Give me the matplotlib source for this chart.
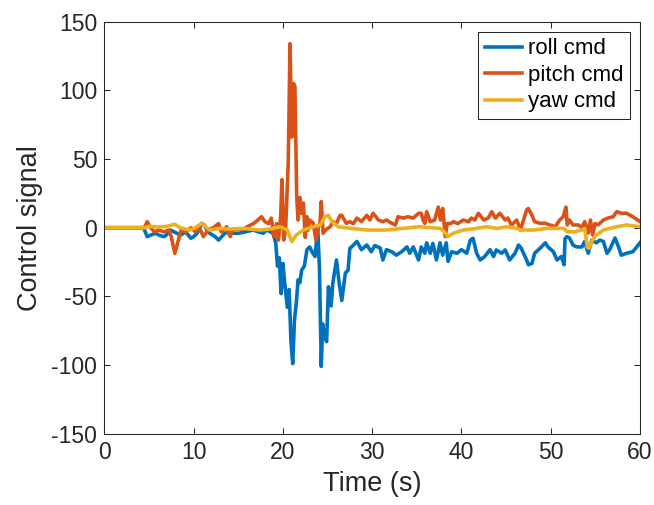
import matplotlib
matplotlib.use("Agg")
import matplotlib.pyplot as plt

# ---------------------------------------------------------------
# Control commands logged during the flight (time in seconds)
# ---------------------------------------------------------------
t_roll = [0, 4.4, 4.8, 5.2, 5.75, 6.1, 6.7, 7.0, 7.4, 7.8, 8.55, 9.1, 9.7, 10.0,
          10.4, 10.9, 11.2, 11.5, 11.8, 12.4, 12.8, 13.5, 14.1, 14.4, 15.1, 15.8,
          16.7, 17.2, 17.8, 18.2, 18.6, 18.9, 19.2, 19.4, 19.6, 19.8, 20.0, 20.2,
          20.5, 20.7, 20.9, 21.1, 21.3, 21.5, 21.7, 21.9, 22.1, 22.4, 22.7, 23.0,
          23.3, 23.6, 23.9, 24.1, 24.3, 24.45, 24.7, 24.9, 25.1, 25.4, 25.6, 26.0,
          26.3, 26.6, 27.0, 27.3, 27.5, 27.7, 28.3, 28.8, 29.4, 29.9, 30.3, 30.9,
          31.2, 31.6, 32.2, 32.7, 33.3, 33.9, 34.2, 34.6, 35.2, 35.5, 35.9, 36.1,
          36.5, 36.8, 37.2, 37.6, 37.9, 38.3, 38.5, 38.9, 39.5, 40.0, 40.6, 41.0,
          41.3, 41.7, 42.1, 42.6, 43.2, 43.6, 43.9, 44.5, 44.9, 45.4, 46.0, 46.4,
          46.7, 47.3, 47.5, 47.9, 48.2, 48.8, 49.4, 49.7, 50.3, 50.7, 51.2, 51.5,
          51.6, 51.8, 52.1, 52.5, 52.9, 53.5, 53.8, 54.2, 54.6, 55.1, 55.5, 55.9,
          56.3, 56.6, 57.2, 57.6, 57.9, 58.5, 59.2, 60.0]
roll_cmd = [0, 0, -6.5, -5.4, -4, -5.4, -6.5, -5, -1.7, -3, -5.4, -3, -7.7, -6.5,
            -4, 3.2, 2, -1.7, -4, -6.5, -9, -4, -3, -4, -4, -3,
            -1.7, -3, -4, -1.7, -3, -4, -11, -28, -22, -48, -26, -40,
            -58, -45, -82, -99, -67, -55, -38, -40, -31, -28, -16, -14,
            -18, -21, 0, -30, -101, -70, -80, -83, -43, -57, -40, -23.5,
            -40, -53, -33, -31, -15, -14, -10, -16, -12.6, -17.5, -13, -14.8,
            -23.5, -16, -17.5, -20, -17.5, -14, -18.6, -14, -23.5, -14, -18.6, -11,
            -18.6, -11.4, -23.5, -11, -20, -11, -24.5, -17.5, -18.6, -16, -18.6, -9,
            -7.7, -18.6, -23.5, -21, -16, -21, -16.2, -18.6, -16.2, -23.5, -18.6, -12.6,
            -15, -23.5, -27, -26, -18.6, -15, -11, -14, -17.5, -23.5, -21, -27,
            -8, -6.5, -7.5, -12.6, -14, -14, -10, -18.6, -9, -11, -9, -10,
            -18.6, -16, -7.5, -14, -20, -18.6, -17.5, -11]

t_pitch = [0, 4.5, 4.8, 5.2, 5.6, 6.1, 6.7, 7.2, 7.5, 7.9, 8.3, 8.6, 9.1, 9.7,
           10.2, 10.6, 11.1, 11.6, 12.2, 12.8, 13.1, 13.7, 14.1, 14.4, 15.0, 15.6,
           16.1, 16.7, 17.2, 17.6, 18.0, 18.4, 18.7, 19.0, 19.3, 19.5, 19.75, 19.9,
           20.1, 20.3, 20.6, 20.8, 21.0, 21.2, 21.35, 21.55, 21.7, 21.9, 22.1, 22.3,
           22.5, 22.7, 22.85, 23.0, 23.4, 23.7, 24.0, 24.15, 24.3, 24.5, 24.9, 25.3,
           25.6, 26.0, 26.4, 26.6, 27.1, 27.5, 27.9, 28.3, 28.8, 29.4, 29.75, 30.1,
           30.7, 31.2, 31.6, 32.2, 32.6, 32.9, 33.5, 34.0, 34.6, 35.2, 35.5, 35.7,
           35.9, 36.1, 36.5, 37.0, 37.4, 37.65, 37.9, 38.2, 38.4, 38.8, 39.1, 39.6,
           40.2, 40.8, 41.1, 41.5, 41.9, 42.5, 43.0, 43.4, 43.8, 44.3, 44.9, 45.2,
           45.6, 46.2, 46.6, 46.9, 47.3, 47.5, 47.9, 48.2, 48.8, 49.4, 49.9, 50.5,
           51.0, 51.4, 51.7, 51.85, 52.1, 52.5, 53.1, 53.5, 53.8, 54.2, 54.45, 54.7,
           54.95, 55.3, 55.9, 56.4, 57.0, 57.4, 57.9, 58.5, 59.2, 60.0]
pitch_cmd = [0, 0, 4.4, 0, -3, -1.7, -3, -1.7, -6.5, -18.7, -9, -1.7, -3, 0,
             -3, 0.7, -6.5, -1.7, 0, 3, -3, 0.7, -6.5, -1, -1, -1,
             1, 3, 5.6, 8, 4.4, 3, 7, -6.5, 3, -9, 8, 35,
             -9, -1.7, 47, 134, 66, 105, 103, 22.6, 5.6, 22, 10.5, 18,
             -7, 8, -1.7, 5.6, 3.4, -9, 0.7, 3, 19, -4, -1, 0.7,
             4.4, 3, 9, 9, 3.2, 4.4, 3, 7, 4.4, 9, 5.6, 10.5,
             5.6, 4.4, 5.6, 3.2, 2, 8, 7, 8, 7, 10.5, 10.5, 5.6,
             3.2, 11.7, 4.4, 5.6, 15, 5.6, 14, -6.5, 3, 3, 4.4, 3,
             5.6, 4.4, 7, 5.6, 10.5, 5.6, 7, 11.7, 7, 10.5, 5.6, 7,
             2, 5.6, -1.7, 4.4, 13, 14, 9, 4.4, 3.2, 3.2, 2, 0.7,
             5.6, 8, 15, 2, 5.6, 2, 2, 0, 4.4, -4, 5.6, -5.4,
             3, 2, 5.6, 7, 8, 11.7, 10.5, 10.5, 8, 4.4]

t_yaw = [0, 4.5, 5.0, 6.0, 7.0, 7.9, 8.5, 9.6, 10.3, 10.9, 11.8, 13.0, 14.0, 15.5,
         17.4, 18.5, 19.7, 20.5, 21.0, 21.5, 22.3, 23.4, 24.2, 24.7, 25.1, 25.5,
         26.2, 27.6, 29.5, 31.5, 33.4, 35.3, 37.6, 38.1, 38.5, 39.1, 40.2, 41.7,
         42.8, 44.0, 45.1, 46.2, 46.6, 48.1, 49.6, 51.5, 51.8, 52.7, 53.5, 53.8,
         54.1, 54.3, 54.6, 55.1, 55.9, 56.6, 57.4, 58.5, 59.6, 60.0]
yaw_cmd = [0, 0, 1, 0.5, 1, 2.5, 0, -1.7, 0.5, 3.2, -1.7, -0.5, -1, -0.5,
           -1.7, -1, 0.7, -1.7, -10, -5.4, -1.7, 0.7, 2, 8, 9, 4.4,
           0.7, -0.5, -1.7, -1.7, -0.5, 0.7, -0.5, -3, -6.5, -4, -1.7, -0.5,
           0.7, -0.5, 0.7, -0.5, -1.7, -1.7, -0.5, -0.5, -3, -3, -1.7, -0.5,
           -14, -15, -10, -5.4, -1.7, -0.5, 0.7, 2, 1, 0.7]

# MATLAB default line colours
C_ROLL = "#0072BD"
C_PITCH = "#D95319"
C_YAW = "#EDB120"
AX_COLOR = "#262626"

plt.rcParams["font.family"] = ["Liberation Sans", "DejaVu Sans"]
plt.rcParams["axes.unicode_minus"] = False

fig = plt.figure(figsize=(6.54, 5.05), dpi=100)
ax = fig.add_axes([0.1595, 0.1412, 0.8191, 0.8158])

ax.plot(t_roll, roll_cmd, color=C_ROLL, lw=2.6, label="roll cmd")
ax.plot(t_pitch, pitch_cmd, color=C_PITCH, lw=2.6, label="pitch cmd")
ax.plot(t_yaw, yaw_cmd, color=C_YAW, lw=2.6, label="yaw cmd")

ax.set_xlim(0, 60)
ax.set_ylim(-150, 150)
ax.set_xticks(range(0, 61, 10))
ax.set_yticks(range(-150, 151, 50))

ax.tick_params(direction="in", length=4, width=0.75, colors=AX_COLOR,
               labelsize=16.5, top=True, right=True, pad=5)
for s in ax.spines.values():
    s.set_color(AX_COLOR)
    s.set_linewidth(0.75)

ax.set_xlabel("Time (s)", fontsize=19.5, color=AX_COLOR, labelpad=5)
ax.set_ylabel("Control signal", fontsize=19.5, color=AX_COLOR, labelpad=6)

leg = ax.legend(loc="upper right", fontsize=16, fancybox=False,
                edgecolor=AX_COLOR, framealpha=1, handlelength=1.7,
                handletextpad=0.25, borderaxespad=0.45, labelspacing=0.25,
                borderpad=0.3)
leg.get_frame().set_linewidth(0.75)

fig.savefig("out.png", dpi=100)
